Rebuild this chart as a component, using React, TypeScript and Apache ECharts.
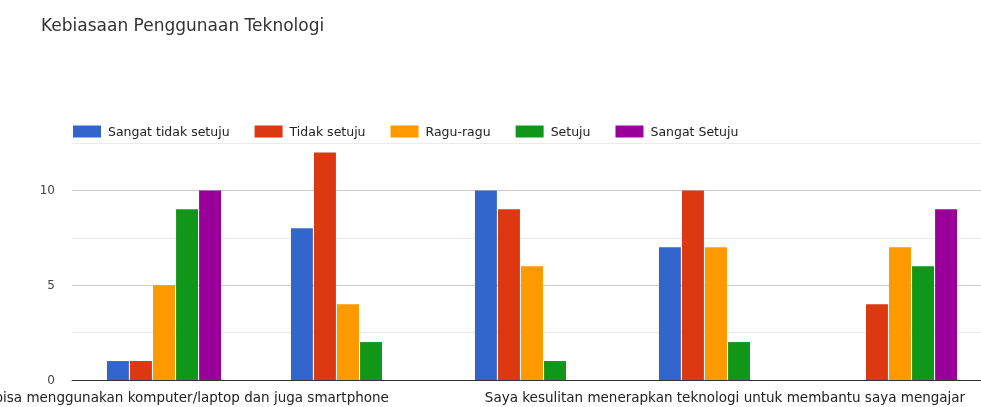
import React, { useEffect, useRef } from "react";
import * as echarts from "echarts";

const title = "Kebiasaan Penggunaan Teknologi";
const categories = [
  "Saya bisa menggunakan komputer/laptop dan juga smartphone",
  "Saya lebih suka menggunakan buku daripada teknologi",
  "Saya tidak terbiasa menggunakan teknologi dalam mengajar",
  "Saya kesulitan menerapkan teknologi untuk membantu saya mengajar",
  "Saya sering menggunakan teknologi dalam kegiatan sehari-hari",
];
const seriesNames = ["Sangat tidak setuju", "Tidak setuju", "Ragu-ragu", "Setuju", "Sangat Setuju"];
const sangatTidakSetuju = [1, 8, 10, 7, 0];
const tidakSetuju = [1, 12, 9, 10, 4];
const raguRagu = [5, 4, 6, 7, 7];
const setuju = [9, 2, 1, 2, 6];
const sangatSetuju = [10, 0, 0, 0, 9];
const colors = ["#3366cc", "#dc3912", "#ff9900", "#109618", "#990099"];
const shownLabelIndexes = [0, 3];
const yTickLabels = [0, 5, 10];

const FONT = "DejaVu Sans";

export default function App() {
  const ref = useRef<HTMLDivElement>(null);
  useEffect(() => {
    document.body.style.margin = "0";
    const chart = echarts.init(ref.current!, null, { renderer: "svg" });
    const values = [sangatTidakSetuju, tidakSetuju, raguRagu, setuju, sangatSetuju];
    chart.setOption({
      animation: false,
      textStyle: { fontFamily: FONT },
      title: {
        text: title,
        left: 36,
        top: 11,
        textStyle: { fontSize: 17, fontWeight: "normal", color: "#333", fontFamily: FONT },
      },
      legend: {
        left: 73,
        top: 125,
        padding: 0,
        itemWidth: 28,
        itemHeight: 12,
        itemGap: 25,
        icon: "rect",
        textStyle: { fontSize: 12.5, color: "#222", fontFamily: FONT, padding: [0, 0, 0, 2] },
        data: seriesNames,
      },
      grid: { left: 72, top: 143, width: 920, height: 237, outerBoundsMode: "none", containLabel: false },
      xAxis: {
        type: "category",
        data: categories,
        axisTick: { show: false },
        axisLine: { lineStyle: { color: "#333", width: 1 } },
        axisLabel: {
          interval: (i: number) => shownLabelIndexes.includes(i),
          color: "#222",
          fontSize: 13.5,
          margin: 10,
          padding: [0, 0, 0, 18],
          fontFamily: FONT,
          hideOverlap: false,
        },
      },
      yAxis: {
        type: "value",
        min: 0,
        max: 12.5,
        interval: 2.5,
        axisLine: { show: false },
        axisTick: { show: false },
        axisLabel: {
          color: "#444",
          fontSize: 12,
          margin: 17,
          fontFamily: FONT,
          formatter: (v: number) => (yTickLabels.includes(v) ? String(v) : ""),
        },
        splitLine: { lineStyle: { color: ["#ccc", "#ebebeb"], width: 1 } },
      },
      series: seriesNames.map((name, i) => ({
        name,
        type: "bar",
        data: values[i],
        itemStyle: { color: colors[i] },
        barGap: "5%",
        barCategoryGap: "38%",
      })),
    });
    return () => chart.dispose();
  }, []);
  return <div ref={ref} style={{ position: "fixed", left: 0, top: 0, width: 981, height: 407 }} />;
}
